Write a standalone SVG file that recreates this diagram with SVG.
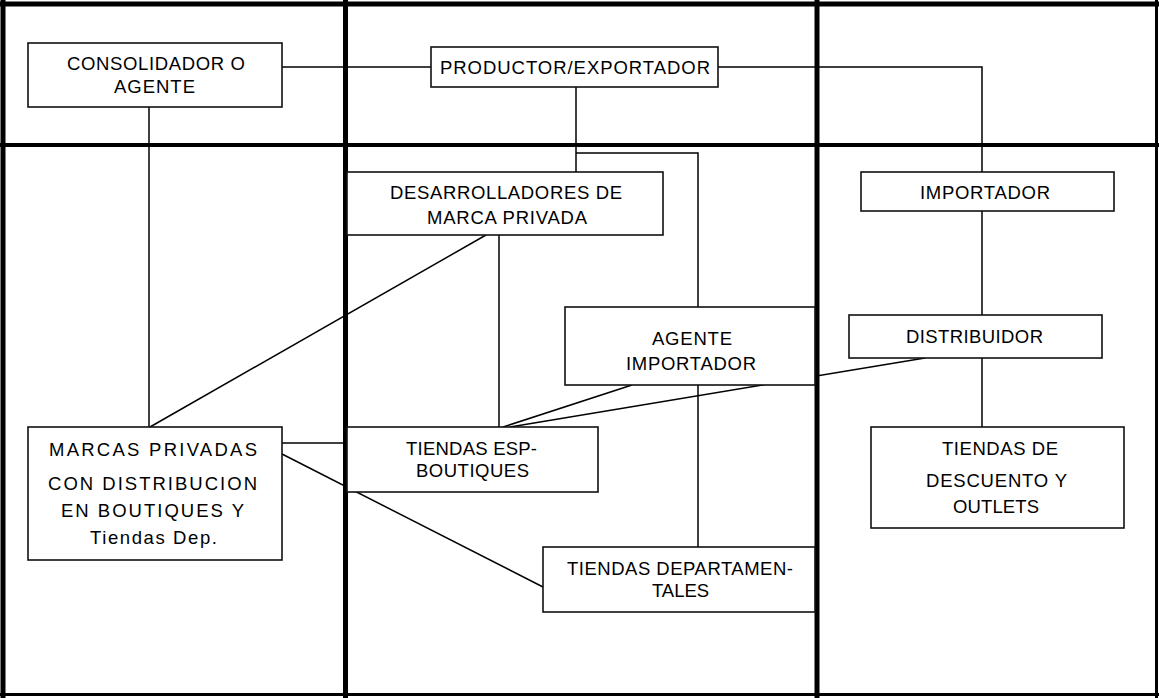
<svg xmlns="http://www.w3.org/2000/svg" width="1159" height="698" viewBox="0 0 1159 698">
  <style>
    .frame { stroke: #000; fill: none; }
    .box { fill: #fff; stroke: #111; stroke-width: 1.6; }
    .link { fill: none; stroke: #000; stroke-width: 1.5; }
    .lbl { font-family: "Liberation Sans", Arial, sans-serif; font-size: 18.5px; fill: #000; }
  </style>
  <rect width="1159" height="698" fill="#fff"/>

  <!-- swimlane grid -->
  <g id="grid">
    <line class="frame" x1="0" y1="4" x2="1159" y2="4" stroke-width="5"/>
    <line class="frame" x1="3" y1="0" x2="3" y2="698" stroke-width="5"/>
    <line class="frame" x1="1156.5" y1="0" x2="1156.5" y2="698" stroke-width="3"/>
    <line class="frame" x1="0" y1="694.5" x2="1159" y2="694.5" stroke-width="3"/>
    <line class="frame" x1="0" y1="145" x2="1159" y2="145" stroke-width="4"/>
    <line class="frame" x1="345.5" y1="0" x2="345.5" y2="698" stroke-width="5"/>
    <line class="frame" x1="817" y1="0" x2="817" y2="698" stroke-width="5"/>
  </g>

  <!-- connectors -->
  <g id="connectors">
    <polyline class="link" points="282,67 431,67"/>
    <polyline class="link" points="718,67 982,67 982,172"/>
    <polyline class="link" points="576,87 576,172"/>
    <polyline class="link" points="576,153 698,153 698,307"/>
    <polyline class="link" points="698,385 698,547"/>
    <polyline class="link" points="982,211 982,315"/>
    <polyline class="link" points="982,358 982,427"/>
    <polyline class="link" points="149,107 149,427"/>
    <polyline class="link" points="486,235 150,427"/>
    <polyline class="link" points="499,235 499,427"/>
    <polyline class="link" points="632,385 503,427"/>
    <polyline class="link" points="925,358 510,427"/>
    <polyline class="link" points="282,443 347,443"/>
    <polyline class="link" points="282,454 543,587"/>
  </g>

  <g id="consolidador">
    <rect class="box" x="28" y="43" width="254" height="64"/>
    <text class="lbl" x="67" y="69.5" textLength="178" lengthAdjust="spacing">CONSOLIDADOR O</text>
    <text class="lbl" x="114" y="92.5" textLength="81" lengthAdjust="spacing">AGENTE</text>
  </g>

  <g id="productor">
    <rect class="box" x="431" y="47" width="287" height="40"/>
    <text class="lbl" x="440" y="73.5" textLength="270" lengthAdjust="spacing">PRODUCTOR/EXPORTADOR</text>
  </g>

  <g id="desarrolladores">
    <rect class="box" x="347" y="172" width="316" height="63"/>
    <text class="lbl" x="390" y="198.5" textLength="232" lengthAdjust="spacing">DESARROLLADORES DE</text>
    <text class="lbl" x="427" y="223.5" textLength="160" lengthAdjust="spacing">MARCA PRIVADA</text>
  </g>

  <g id="importador">
    <rect class="box" x="861" y="172" width="253" height="39"/>
    <text class="lbl" x="920" y="198.5" textLength="130" lengthAdjust="spacing">IMPORTADOR</text>
  </g>

  <g id="agente-importador">
    <rect class="box" x="565" y="307" width="250" height="78"/>
    <text class="lbl" x="652" y="344.5" textLength="80" lengthAdjust="spacing">AGENTE</text>
    <text class="lbl" x="626" y="369.5" textLength="130" lengthAdjust="spacing">IMPORTADOR</text>
  </g>

  <g id="distribuidor">
    <rect class="box" x="849" y="315" width="253" height="43"/>
    <text class="lbl" x="906" y="342.5" textLength="137" lengthAdjust="spacing">DISTRIBUIDOR</text>
  </g>

  <g id="marcas-privadas">
    <rect class="box" x="28" y="427" width="254" height="133"/>
    <text class="lbl" x="49" y="455.5" textLength="208" lengthAdjust="spacing">MARCAS PRIVADAS</text>
    <text class="lbl" x="48" y="489.5" textLength="209" lengthAdjust="spacing">CON DISTRIBUCION</text>
    <text class="lbl" x="61" y="516.5" textLength="183" lengthAdjust="spacing">EN BOUTIQUES Y</text>
    <text class="lbl" x="90" y="543.5" textLength="127" lengthAdjust="spacing">Tiendas Dep.</text>
  </g>

  <g id="tiendas-esp">
    <rect class="box" x="347" y="427" width="251" height="65"/>
    <text class="lbl" x="406" y="454.5" textLength="131" lengthAdjust="spacing">TIENDAS ESP-</text>
    <text class="lbl" x="416" y="476.5" textLength="113" lengthAdjust="spacing">BOUTIQUES</text>
  </g>

  <g id="tiendas-descuento">
    <rect class="box" x="871" y="427" width="253" height="101"/>
    <text class="lbl" x="942" y="454.5" textLength="116" lengthAdjust="spacing">TIENDAS DE</text>
    <text class="lbl" x="926" y="486.5" textLength="141" lengthAdjust="spacing">DESCUENTO Y</text>
    <text class="lbl" x="953" y="512.5" textLength="86" lengthAdjust="spacing">OUTLETS</text>
  </g>

  <g id="tiendas-departamentales">
    <rect class="box" x="543" y="547" width="272" height="65"/>
    <text class="lbl" x="567" y="574.5" textLength="226" lengthAdjust="spacing">TIENDAS DEPARTAMEN-</text>
    <text class="lbl" x="652" y="596.5" textLength="57" lengthAdjust="spacing">TALES</text>
  </g>
</svg>
